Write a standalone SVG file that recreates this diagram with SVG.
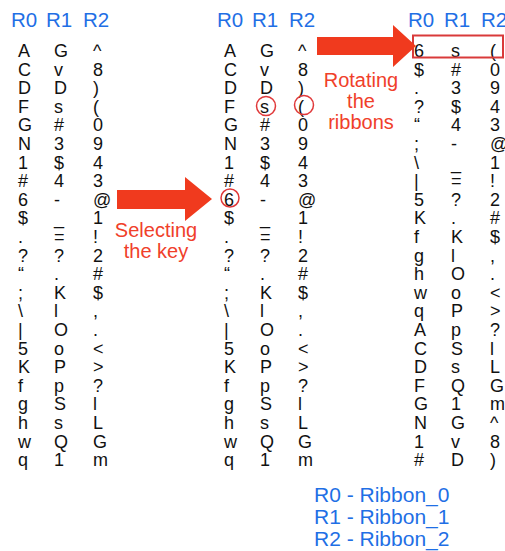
<svg xmlns="http://www.w3.org/2000/svg" width="505" height="551" viewBox="0 0 505 551">
<style>
.hdr{font-family:"Liberation Sans",Arial,sans-serif;font-size:20.5px;fill:#1f6fe5}
.col{font-family:"Liberation Sans",Arial,sans-serif;font-size:18px;fill:#111}
.lbl{font-family:"Liberation Sans",Arial,sans-serif;font-size:20px;fill:#f0402a;text-anchor:middle}
.leg{font-family:"Liberation Sans",Arial,sans-serif;font-size:21px;fill:#1f6fe5}
.arrow{fill:#f03a1e}
.mark{fill:none;stroke:#e0393a;stroke-width:1.5}
</style>
<rect width="505" height="551" fill="#ffffff"/>
<g id="panel1">
<text class="hdr" x="11" y="27">R0</text><text class="hdr" x="46" y="27">R1</text><text class="hdr" x="83" y="27">R2</text>
<text class="col" y="57"><tspan x="18">A</tspan><tspan x="18" dy="18.6">C</tspan><tspan x="18" dy="18.6">D</tspan><tspan x="18" dy="18.6">F</tspan><tspan x="18" dy="18.6">G</tspan><tspan x="18" dy="18.6">N</tspan><tspan x="18" dy="18.6">1</tspan><tspan x="18" dy="18.6">#</tspan><tspan x="18" dy="18.6">6</tspan><tspan x="18" dy="18.6">$</tspan><tspan x="18" dy="18.6">.</tspan><tspan x="18" dy="18.6">?</tspan><tspan x="18" dy="18.6">“</tspan><tspan x="18" dy="18.6">;</tspan><tspan x="18" dy="18.6">\</tspan><tspan x="18" dy="18.6">|</tspan><tspan x="18" dy="18.6">5</tspan><tspan x="18" dy="18.6">K</tspan><tspan x="18" dy="18.6">f</tspan><tspan x="18" dy="18.6">g</tspan><tspan x="18" dy="18.6">h</tspan><tspan x="18" dy="18.6">w</tspan><tspan x="18" dy="18.6">q</tspan></text>
<text class="col" y="57"><tspan x="54">G</tspan><tspan x="54" dy="18.6">v</tspan><tspan x="54" dy="18.6">D</tspan><tspan x="54" dy="18.6">s</tspan><tspan x="54" dy="18.6">#</tspan><tspan x="54" dy="18.6">3</tspan><tspan x="54" dy="18.6">$</tspan><tspan x="54" dy="18.6">4</tspan><tspan x="54" dy="18.6">-</tspan><tspan x="54" dy="18.6">_</tspan><tspan x="54" dy="18.6">=</tspan><tspan x="54" dy="18.6">?</tspan><tspan x="54" dy="18.6">.</tspan><tspan x="54" dy="18.6">K</tspan><tspan x="54" dy="18.6">l</tspan><tspan x="54" dy="18.6">O</tspan><tspan x="54" dy="18.6">o</tspan><tspan x="54" dy="18.6">P</tspan><tspan x="54" dy="18.6">p</tspan><tspan x="54" dy="18.6">S</tspan><tspan x="54" dy="18.6">s</tspan><tspan x="54" dy="18.6">Q</tspan><tspan x="54" dy="18.6">1</tspan></text>
<text class="col" y="57"><tspan x="93">^</tspan><tspan x="93" dy="18.6">8</tspan><tspan x="93" dy="18.6">)</tspan><tspan x="93" dy="18.6">(</tspan><tspan x="93" dy="18.6">0</tspan><tspan x="93" dy="18.6">9</tspan><tspan x="93" dy="18.6">4</tspan><tspan x="93" dy="18.6">3</tspan><tspan x="93" dy="18.6">@</tspan><tspan x="93" dy="18.6">1</tspan><tspan x="93" dy="18.6">!</tspan><tspan x="93" dy="18.6">2</tspan><tspan x="93" dy="18.6">#</tspan><tspan x="93" dy="18.6">$</tspan><tspan x="93" dy="18.6">,</tspan><tspan x="93" dy="18.6">.</tspan><tspan x="93" dy="18.6">&lt;</tspan><tspan x="93" dy="18.6">&gt;</tspan><tspan x="93" dy="18.6">?</tspan><tspan x="93" dy="18.6">l</tspan><tspan x="93" dy="18.6">L</tspan><tspan x="93" dy="18.6">G</tspan><tspan x="93" dy="18.6">m</tspan></text>
</g>
<g id="panel2">
<text class="hdr" x="217" y="27">R0</text><text class="hdr" x="252" y="27">R1</text><text class="hdr" x="289" y="27">R2</text>
<text class="col" y="57"><tspan x="224">A</tspan><tspan x="224" dy="18.6">C</tspan><tspan x="224" dy="18.6">D</tspan><tspan x="224" dy="18.6">F</tspan><tspan x="224" dy="18.6">G</tspan><tspan x="224" dy="18.6">N</tspan><tspan x="224" dy="18.6">1</tspan><tspan x="224" dy="18.6">#</tspan><tspan x="224" dy="18.6">6</tspan><tspan x="224" dy="18.6">$</tspan><tspan x="224" dy="18.6">.</tspan><tspan x="224" dy="18.6">?</tspan><tspan x="224" dy="18.6">“</tspan><tspan x="224" dy="18.6">;</tspan><tspan x="224" dy="18.6">\</tspan><tspan x="224" dy="18.6">|</tspan><tspan x="224" dy="18.6">5</tspan><tspan x="224" dy="18.6">K</tspan><tspan x="224" dy="18.6">f</tspan><tspan x="224" dy="18.6">g</tspan><tspan x="224" dy="18.6">h</tspan><tspan x="224" dy="18.6">w</tspan><tspan x="224" dy="18.6">q</tspan></text>
<text class="col" y="57"><tspan x="260">G</tspan><tspan x="260" dy="18.6">v</tspan><tspan x="260" dy="18.6">D</tspan><tspan x="260" dy="18.6">s</tspan><tspan x="260" dy="18.6">#</tspan><tspan x="260" dy="18.6">3</tspan><tspan x="260" dy="18.6">$</tspan><tspan x="260" dy="18.6">4</tspan><tspan x="260" dy="18.6">-</tspan><tspan x="260" dy="18.6">_</tspan><tspan x="260" dy="18.6">=</tspan><tspan x="260" dy="18.6">?</tspan><tspan x="260" dy="18.6">.</tspan><tspan x="260" dy="18.6">K</tspan><tspan x="260" dy="18.6">l</tspan><tspan x="260" dy="18.6">O</tspan><tspan x="260" dy="18.6">o</tspan><tspan x="260" dy="18.6">P</tspan><tspan x="260" dy="18.6">p</tspan><tspan x="260" dy="18.6">S</tspan><tspan x="260" dy="18.6">s</tspan><tspan x="260" dy="18.6">Q</tspan><tspan x="260" dy="18.6">1</tspan></text>
<text class="col" y="57"><tspan x="298">^</tspan><tspan x="298" dy="18.6">8</tspan><tspan x="298" dy="18.6">)</tspan><tspan x="298" dy="18.6">(</tspan><tspan x="298" dy="18.6">0</tspan><tspan x="298" dy="18.6">9</tspan><tspan x="298" dy="18.6">4</tspan><tspan x="298" dy="18.6">3</tspan><tspan x="298" dy="18.6">@</tspan><tspan x="298" dy="18.6">1</tspan><tspan x="298" dy="18.6">!</tspan><tspan x="298" dy="18.6">2</tspan><tspan x="298" dy="18.6">#</tspan><tspan x="298" dy="18.6">$</tspan><tspan x="298" dy="18.6">,</tspan><tspan x="298" dy="18.6">.</tspan><tspan x="298" dy="18.6">&lt;</tspan><tspan x="298" dy="18.6">&gt;</tspan><tspan x="298" dy="18.6">?</tspan><tspan x="298" dy="18.6">l</tspan><tspan x="298" dy="18.6">L</tspan><tspan x="298" dy="18.6">G</tspan><tspan x="298" dy="18.6">m</tspan></text>
<circle class="mark" cx="266" cy="106" r="9.5"/>
<circle class="mark" cx="304" cy="105" r="9.5"/>
<circle class="mark" cx="230" cy="198" r="9"/>
</g>
<g id="panel3">
<text class="hdr" x="408" y="27">R0</text><text class="hdr" x="444" y="27">R1</text><text class="hdr" x="481" y="27">R2</text>
<text class="col" y="57"><tspan x="414">6</tspan><tspan x="414" dy="18.6">$</tspan><tspan x="414" dy="18.6">.</tspan><tspan x="414" dy="18.6">?</tspan><tspan x="414" dy="18.6">“</tspan><tspan x="414" dy="18.6">;</tspan><tspan x="414" dy="18.6">\</tspan><tspan x="414" dy="18.6">|</tspan><tspan x="414" dy="18.6">5</tspan><tspan x="414" dy="18.6">K</tspan><tspan x="414" dy="18.6">f</tspan><tspan x="414" dy="18.6">g</tspan><tspan x="414" dy="18.6">h</tspan><tspan x="414" dy="18.6">w</tspan><tspan x="414" dy="18.6">q</tspan><tspan x="414" dy="18.6">A</tspan><tspan x="414" dy="18.6">C</tspan><tspan x="414" dy="18.6">D</tspan><tspan x="414" dy="18.6">F</tspan><tspan x="414" dy="18.6">G</tspan><tspan x="414" dy="18.6">N</tspan><tspan x="414" dy="18.6">1</tspan><tspan x="414" dy="18.6">#</tspan></text>
<text class="col" y="57"><tspan x="451">s</tspan><tspan x="451" dy="18.6">#</tspan><tspan x="451" dy="18.6">3</tspan><tspan x="451" dy="18.6">$</tspan><tspan x="451" dy="18.6">4</tspan><tspan x="451" dy="18.6">-</tspan><tspan x="451" dy="18.6">_</tspan><tspan x="451" dy="18.6">=</tspan><tspan x="451" dy="18.6">?</tspan><tspan x="451" dy="18.6">.</tspan><tspan x="451" dy="18.6">K</tspan><tspan x="451" dy="18.6">l</tspan><tspan x="451" dy="18.6">O</tspan><tspan x="451" dy="18.6">o</tspan><tspan x="451" dy="18.6">P</tspan><tspan x="451" dy="18.6">p</tspan><tspan x="451" dy="18.6">S</tspan><tspan x="451" dy="18.6">s</tspan><tspan x="451" dy="18.6">Q</tspan><tspan x="451" dy="18.6">1</tspan><tspan x="451" dy="18.6">G</tspan><tspan x="451" dy="18.6">v</tspan><tspan x="451" dy="18.6">D</tspan></text>
<text class="col" y="57"><tspan x="490">(</tspan><tspan x="490" dy="18.6">0</tspan><tspan x="490" dy="18.6">9</tspan><tspan x="490" dy="18.6">4</tspan><tspan x="490" dy="18.6">3</tspan><tspan x="490" dy="18.6">@</tspan><tspan x="490" dy="18.6">1</tspan><tspan x="490" dy="18.6">!</tspan><tspan x="490" dy="18.6">2</tspan><tspan x="490" dy="18.6">#</tspan><tspan x="490" dy="18.6">$</tspan><tspan x="490" dy="18.6">,</tspan><tspan x="490" dy="18.6">.</tspan><tspan x="490" dy="18.6">&lt;</tspan><tspan x="490" dy="18.6">&gt;</tspan><tspan x="490" dy="18.6">?</tspan><tspan x="490" dy="18.6">l</tspan><tspan x="490" dy="18.6">L</tspan><tspan x="490" dy="18.6">G</tspan><tspan x="490" dy="18.6">m</tspan><tspan x="490" dy="18.6">^</tspan><tspan x="490" dy="18.6">8</tspan><tspan x="490" dy="18.6">)</tspan></text>
<rect x="413" y="35.5" width="90" height="22" fill="none" stroke="#d93a3a" stroke-width="2"/>
</g>
<g id="connectors">
<polygon class="arrow" points="117,190 185,190 185,177 212,199 185,221 185,209 117,209"/>
<polygon class="arrow" points="317,37 393,37 393,25 416,46 393,67 393,55 317,55"/>
</g>
<g id="labels">
<text class="lbl" x="156" y="237">Selecting</text>
<text class="lbl" x="156" y="258">the key</text>
<text class="lbl" x="361" y="87">Rotating</text>
<text class="lbl" x="361" y="108">the</text>
<text class="lbl" x="361" y="129">ribbons</text>
</g>
<g id="legend">
<text class="leg" x="314" y="502">R0 - Ribbon_0</text>
<text class="leg" x="314" y="524">R1 - Ribbon_1</text>
<text class="leg" x="314" y="546">R2 - Ribbon_2</text>
</g>
</svg>
